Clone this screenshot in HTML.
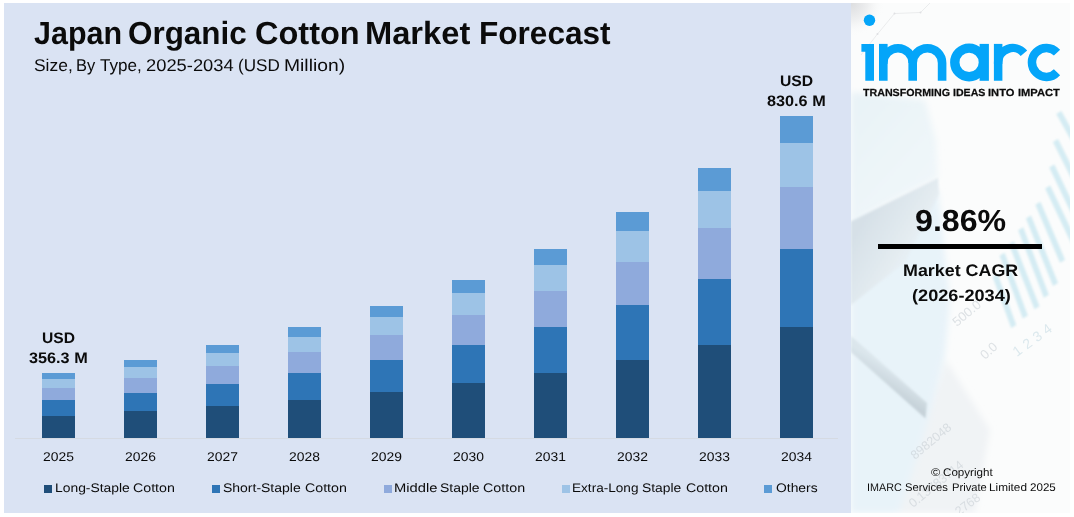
<!DOCTYPE html>
<html><head><meta charset="utf-8">
<style>
*{margin:0;padding:0;box-sizing:border-box}
html,body{width:1074px;height:517px;background:#fff;overflow:hidden}
body{position:relative;font-family:"Liberation Sans",sans-serif;color:#0a0a0a}
.abs,.s,.sq,.t{position:absolute}
#chart{position:absolute;left:4px;top:3px;width:847px;height:510px;background:#DAE3F3}
.s{width:33px}
.t{white-space:nowrap;transform-origin:0 0;color:#0b0b0b;text-rendering:geometricPrecision}
.sq{top:485.1px;width:7.9px;height:7.8px}
#axis{position:absolute;left:15px;top:438px;width:823px;height:1px;background:#d5dae2}
</style></head><body>
<div id="chart"></div>
<svg class="abs" style="left:851px;top:3px" width="219" height="510" viewBox="851 3 219 510">
<defs>
<radialGradient id="g0" cx="851" cy="3" r="34" gradientUnits="userSpaceOnUse"><stop offset="0" stop-color="#dcdddf"/><stop offset="0.5" stop-color="#eeeff0"/><stop offset="1" stop-color="#fbfcfc" stop-opacity="0"/></radialGradient>
<linearGradient id="gf" x1="851" y1="240" x2="925" y2="285" gradientUnits="userSpaceOnUse"><stop offset="0" stop-color="#d6e0e7"/><stop offset="0.55" stop-color="#e4ecf1"/><stop offset="1" stop-color="#eef4f8" stop-opacity="0"/></linearGradient>
<linearGradient id="gp" x1="851" y1="120" x2="940" y2="200" gradientUnits="userSpaceOnUse"><stop offset="0" stop-color="#e9f3f7"/><stop offset="1" stop-color="#f1f7fa"/></linearGradient>
<linearGradient id="gpen" x1="895" y1="372" x2="885" y2="388" gradientUnits="userSpaceOnUse"><stop offset="0" stop-color="#dbe6ec"/><stop offset="1" stop-color="#c6d2d9"/></linearGradient>
<filter id="bl" x="-20%" y="-20%" width="140%" height="140%"><feGaussianBlur stdDeviation="1"/></filter>
<filter id="bl05" x="-20%" y="-20%" width="140%" height="140%"><feGaussianBlur stdDeviation="0.45"/></filter>
<filter id="bl3" x="-20%" y="-20%" width="140%" height="140%"><feGaussianBlur stdDeviation="3"/></filter>
</defs>
<rect x="851" y="3" width="219" height="510" fill="#fbfcfc"/>
<g filter="url(#bl3)">
<polygon points="851,92 925,100 936,140 938,178 851,222" fill="url(#gp)"/>
<polygon points="851,222 938,190 950,300 945,355 929,418 914,468 899,513 851,513" fill="#e8f3f9"/>
<polygon points="929,418 946,360 990,430 975,513 899,513 914,468" fill="#f0f3f5"/>
</g>
<rect x="851" y="3" width="60" height="60" fill="url(#g0)"/>
<path d="M861 55L877.5 34L894.5 13.5L920.5 12.5L930 3" fill="none" stroke="#e6e7e9" stroke-width="0.8"/><g fill="#dfe0e3"><circle cx="877.5" cy="34" r="1"/><circle cx="894.5" cy="13.5" r="1"/><circle cx="920.5" cy="12.5" r="1"/></g>
<g filter="url(#bl)">
<polygon points="851,221.5 938,178 939,194 905,262 851,305" fill="url(#gf)"/>
<polygon points="851,336 927,403 925.5,418.5 851,352" fill="url(#gpen)"/>
<g fill="#cde9f1" opacity="0.85"><polygon points="1056.3,114 1061.3,111 1077.0,139 1072,142"/><polygon points="1053,142 1058.0,139 1077.0,177 1072,180"/><polygon points="1049.3,167.4 1054.3,164.4 1077.0,212 1072,215"/><polygon points="1045.2,188.4 1050.2,185.4 1077.0,242 1072,245"/><polygon points="1035.4,204.7 1040.4,201.7 1065.0,259.8 1060,262.8"/><polygon points="1026,218.6 1031.0,215.6 1058.0,283 1053,286"/><polygon points="1018.2,230.2 1023.2,227.2 1048.8,294.7 1043.8,297.7"/><polygon points="1008.9,244.2 1013.9,241.2 1039.5,306.3 1034.5,309.3"/><polygon points="999.6,255.8 1004.6,252.8 1027.8,315.6 1022.8,318.6"/><polygon points="992.6,276.7 997.6,273.7 1016.2,325 1011.2,328"/></g>
<polygon points="851,335 928,409 926,419 851,347" fill="#c9d3da" opacity="0"/>
</g>
<g font-family="Liberation Sans, sans-serif" fill="#c5ccd2" opacity="0.55" filter="url(#bl05)">
<text transform="translate(957,327) rotate(-40)" font-size="13">500.0</text>
<text transform="translate(985,360) rotate(-42)" font-size="13">0.0</text>
<text transform="translate(1017,357) rotate(-36)" font-size="14" fill="#c3d9e2" letter-spacing="4.5">1234</text>
<text transform="translate(915,460) rotate(-40)" font-size="12.5">8982048</text>
<text transform="translate(913,508) rotate(-39)" font-size="12.5">0.13783714</text>
<text transform="translate(959,516) rotate(-37)" font-size="12.5">2768</text>
</g>
</g>
</svg>
<div id="axis"></div>
<div class="s" style="left:42px;top:373px;height:6.0px;background:#5B9BD5"></div>
<div class="s" style="left:42px;top:379px;height:9.0px;background:#9DC3E6"></div>
<div class="s" style="left:42px;top:388px;height:12.0px;background:#8FAADC"></div>
<div class="s" style="left:42px;top:400px;height:16.0px;background:#2E75B6"></div>
<div class="s" style="left:42px;top:416px;height:21.7px;background:#1F4E79"></div>
<div class="s" style="left:124px;top:360px;height:7.0px;background:#5B9BD5"></div>
<div class="s" style="left:124px;top:367px;height:11.0px;background:#9DC3E6"></div>
<div class="s" style="left:124px;top:378px;height:15.0px;background:#8FAADC"></div>
<div class="s" style="left:124px;top:393px;height:18.0px;background:#2E75B6"></div>
<div class="s" style="left:124px;top:411px;height:26.7px;background:#1F4E79"></div>
<div class="s" style="left:206px;top:345px;height:8.0px;background:#5B9BD5"></div>
<div class="s" style="left:206px;top:353px;height:13.0px;background:#9DC3E6"></div>
<div class="s" style="left:206px;top:366px;height:18.0px;background:#8FAADC"></div>
<div class="s" style="left:206px;top:384px;height:22.0px;background:#2E75B6"></div>
<div class="s" style="left:206px;top:406px;height:31.7px;background:#1F4E79"></div>
<div class="s" style="left:288px;top:327px;height:10.0px;background:#5B9BD5"></div>
<div class="s" style="left:288px;top:337px;height:15.0px;background:#9DC3E6"></div>
<div class="s" style="left:288px;top:352px;height:21.0px;background:#8FAADC"></div>
<div class="s" style="left:288px;top:373px;height:27.0px;background:#2E75B6"></div>
<div class="s" style="left:288px;top:400px;height:37.7px;background:#1F4E79"></div>
<div class="s" style="left:370px;top:306px;height:11.0px;background:#5B9BD5"></div>
<div class="s" style="left:370px;top:317px;height:18.0px;background:#9DC3E6"></div>
<div class="s" style="left:370px;top:335px;height:25.0px;background:#8FAADC"></div>
<div class="s" style="left:370px;top:360px;height:32.0px;background:#2E75B6"></div>
<div class="s" style="left:370px;top:392px;height:45.7px;background:#1F4E79"></div>
<div class="s" style="left:452px;top:280px;height:13.0px;background:#5B9BD5"></div>
<div class="s" style="left:452px;top:293px;height:22.0px;background:#9DC3E6"></div>
<div class="s" style="left:452px;top:315px;height:30.0px;background:#8FAADC"></div>
<div class="s" style="left:452px;top:345px;height:38.0px;background:#2E75B6"></div>
<div class="s" style="left:452px;top:383px;height:54.7px;background:#1F4E79"></div>
<div class="s" style="left:534px;top:249px;height:16.0px;background:#5B9BD5"></div>
<div class="s" style="left:534px;top:265px;height:26.0px;background:#9DC3E6"></div>
<div class="s" style="left:534px;top:291px;height:36.0px;background:#8FAADC"></div>
<div class="s" style="left:534px;top:327px;height:46.0px;background:#2E75B6"></div>
<div class="s" style="left:534px;top:373px;height:64.7px;background:#1F4E79"></div>
<div class="s" style="left:616px;top:212px;height:19.0px;background:#5B9BD5"></div>
<div class="s" style="left:616px;top:231px;height:31.0px;background:#9DC3E6"></div>
<div class="s" style="left:616px;top:262px;height:43.0px;background:#8FAADC"></div>
<div class="s" style="left:616px;top:305px;height:55.0px;background:#2E75B6"></div>
<div class="s" style="left:616px;top:360px;height:77.7px;background:#1F4E79"></div>
<div class="s" style="left:698px;top:168px;height:23.0px;background:#5B9BD5"></div>
<div class="s" style="left:698px;top:191px;height:37.0px;background:#9DC3E6"></div>
<div class="s" style="left:698px;top:228px;height:51.0px;background:#8FAADC"></div>
<div class="s" style="left:698px;top:279px;height:66.0px;background:#2E75B6"></div>
<div class="s" style="left:698px;top:345px;height:92.7px;background:#1F4E79"></div>
<div class="s" style="left:780px;top:116px;height:27.0px;background:#5B9BD5"></div>
<div class="s" style="left:780px;top:143px;height:44.0px;background:#9DC3E6"></div>
<div class="s" style="left:780px;top:187px;height:62.0px;background:#8FAADC"></div>
<div class="s" style="left:780px;top:249px;height:78.0px;background:#2E75B6"></div>
<div class="s" style="left:780px;top:327px;height:110.7px;background:#1F4E79"></div>
<div class="sq" style="left:44.2px;background:#1F4E79"></div>
<div class="sq" style="left:212px;background:#2E75B6"></div>
<div class="sq" style="left:383.7px;background:#8FAADC"></div>
<div class="sq" style="left:562.1px;background:#9DC3E6"></div>
<div class="sq" style="left:764.2px;background:#5B9BD5"></div>
<div class="t" id="tw1" style="left:33.50px;top:15px;font-size:32.0px;line-height:37px;font-weight:bold;transform:scaleX(0.9523)">Japan</div>
<div class="t" id="tw2" style="left:128.42px;top:15px;font-size:32.0px;line-height:37px;font-weight:bold;transform:scaleX(0.9813)">Organic</div>
<div class="t" id="tw3" style="left:254.68px;top:15px;font-size:32.0px;line-height:37px;font-weight:bold;transform:scaleX(1.0158)">Cotton</div>
<div class="t" id="tw4" style="left:365.26px;top:15px;font-size:32.0px;line-height:37px;font-weight:bold;transform:scaleX(1.0207)">Market</div>
<div class="t" id="tw5" style="left:479.23px;top:15px;font-size:32.0px;line-height:37px;font-weight:bold;transform:scaleX(0.9861)">Forecast</div>
<div class="t" id="s1" style="left:33.50px;top:56px;font-size:17.0px;line-height:20px;transform:scaleX(1.0251)">Size,</div>
<div class="t" id="s2" style="left:75.93px;top:56px;font-size:17.0px;line-height:20px;transform:scaleX(0.9670)">By</div>
<div class="t" id="s3" style="left:100.10px;top:56px;font-size:17.0px;line-height:20px;transform:scaleX(1.0060)">Type,</div>
<div class="t" id="s4" style="left:146.20px;top:56px;font-size:17.0px;line-height:20px;transform:scaleX(1.0786)">2025-2034</div>
<div class="t" id="s5" style="left:237.79px;top:56px;font-size:17.0px;line-height:20px;transform:scaleX(1.0055)">(USD</div>
<div class="t" id="s6" style="left:284.17px;top:56px;font-size:17.0px;line-height:20px;transform:scaleX(1.1346)">Million)</div>
<div class="t" id="u1" style="left:41.90px;top:330px;font-size:15.2px;line-height:18px;font-weight:bold;transform:scaleX(1.0281)">USD</div>
<div class="t" id="v1" style="left:28.80px;top:350px;font-size:15.2px;line-height:18px;font-weight:bold;transform:scaleX(1.0696)">356.3 M</div>
<div class="t" id="u2" style="left:779.80px;top:73px;font-size:15.2px;line-height:18px;font-weight:bold;transform:scaleX(1.0343)">USD</div>
<div class="t" id="v2" style="left:767.10px;top:93px;font-size:15.2px;line-height:18px;font-weight:bold;transform:scaleX(1.0696)">830.6 M</div>
<div class="t" id="cagr" style="left:915.14px;top:204px;font-size:30.4px;line-height:35px;font-weight:bold;transform:scaleX(1.0581)">9.86%</div>
<div class="t" id="mc" style="left:903.33px;top:261px;font-size:16.7px;line-height:20px;font-weight:bold;transform:scaleX(1.0712)">Market CAGR</div>
<div class="t" id="yrs" style="left:912.00px;top:286px;font-size:16.5px;line-height:20px;font-weight:bold;transform:scaleX(1.0995)">(2026-2034)</div>
<div class="t" id="c1a" style="left:930.80px;top:466px;font-size:11.1px;line-height:14px;transform:scaleX(1.1250)">©</div>
<div class="t" id="c1b" style="left:942.50px;top:466px;font-size:11.1px;line-height:14px;transform:scaleX(1.0465)">Copyright</div>
<div class="t" id="c2a" style="left:867.13px;top:481px;font-size:11.1px;line-height:14px;transform:scaleX(0.9702)">IMARC</div>
<div class="t" id="c2b" style="left:904.90px;top:481px;font-size:11.1px;line-height:14px;transform:scaleX(1.0095)">Services</div>
<div class="t" id="c2c" style="left:951.50px;top:481px;font-size:11.1px;line-height:14px;transform:scaleX(1.0071)">Private</div>
<div class="t" id="c2d" style="left:989.30px;top:481px;font-size:11.1px;line-height:14px;transform:scaleX(1.0620)">Limited</div>
<div class="t" id="c2e" style="left:1029.90px;top:481px;font-size:11.1px;line-height:14px;transform:scaleX(1.0445)">2025</div>
<div class="t" id="l1a" style="left:54.68px;top:481px;font-size:12.4px;line-height:15px;transform:scaleX(1.1193)">Long-Staple</div>
<div class="t" id="l1b" style="left:132.80px;top:481px;font-size:12.4px;line-height:15px;transform:scaleX(1.1471)">Cotton</div>
<div class="t" id="l2a" style="left:222.90px;top:481px;font-size:12.4px;line-height:15px;transform:scaleX(1.1278)">Short-Staple</div>
<div class="t" id="l2b" style="left:304.60px;top:481px;font-size:12.4px;line-height:15px;transform:scaleX(1.1471)">Cotton</div>
<div class="t" id="l3a" style="left:393.71px;top:481px;font-size:12.4px;line-height:15px;transform:scaleX(1.1879)">Middle</div>
<div class="t" id="l3b" style="left:439.90px;top:481px;font-size:12.4px;line-height:15px;transform:scaleX(1.1237)">Staple</div>
<div class="t" id="l3c" style="left:483.00px;top:481px;font-size:12.4px;line-height:15px;transform:scaleX(1.1525)">Cotton</div>
<div class="t" id="l4a" style="left:572.40px;top:481px;font-size:12.4px;line-height:15px;transform:scaleX(1.0968)">Extra-Long</div>
<div class="t" id="l4b" style="left:642.30px;top:481px;font-size:12.4px;line-height:15px;transform:scaleX(1.1151)">Staple</div>
<div class="t" id="l4c" style="left:685.50px;top:481px;font-size:12.4px;line-height:15px;transform:scaleX(1.1471)">Cotton</div>
<div class="t" id="l5" style="left:775.80px;top:481px;font-size:12.4px;line-height:15px;transform:scaleX(1.1193)">Others</div>
<div class="t" id="g1" style="left:862.70px;top:87px;font-size:10.3px;line-height:13px;font-weight:bold;-webkit-text-stroke:0.25px #111;transform:scaleX(1.0348)">TRANSFORMING</div>
<div class="t" id="g2" style="left:953.10px;top:87px;font-size:10.3px;line-height:13px;font-weight:bold;-webkit-text-stroke:0.25px #111;transform:scaleX(1.0285)">IDEAS</div>
<div class="t" id="g3" style="left:988.30px;top:87px;font-size:10.3px;line-height:13px;font-weight:bold;-webkit-text-stroke:0.25px #111;transform:scaleX(1.0819)">INTO</div>
<div class="t" id="g4" style="left:1017.90px;top:87px;font-size:10.3px;line-height:13px;font-weight:bold;-webkit-text-stroke:0.25px #111;transform:scaleX(1.0808)">IMPACT</div>
<div class="t" id="y0" style="left:42.90px;top:449px;font-size:12.7px;line-height:16px;transform:scaleX(1.0934)">2025</div>
<div class="t" id="y1" style="left:124.90px;top:449px;font-size:12.7px;line-height:16px;transform:scaleX(1.0934)">2026</div>
<div class="t" id="y2" style="left:206.90px;top:449px;font-size:12.7px;line-height:16px;transform:scaleX(1.0934)">2027</div>
<div class="t" id="y3" style="left:288.90px;top:449px;font-size:12.7px;line-height:16px;transform:scaleX(1.0934)">2028</div>
<div class="t" id="y4" style="left:370.90px;top:449px;font-size:12.7px;line-height:16px;transform:scaleX(1.0934)">2029</div>
<div class="t" id="y5" style="left:452.90px;top:449px;font-size:12.7px;line-height:16px;transform:scaleX(1.0934)">2030</div>
<div class="t" id="y6" style="left:534.90px;top:449px;font-size:12.7px;line-height:16px;transform:scaleX(1.0934)">2031</div>
<div class="t" id="y7" style="left:616.90px;top:449px;font-size:12.7px;line-height:16px;transform:scaleX(1.0934)">2032</div>
<div class="t" id="y8" style="left:698.90px;top:449px;font-size:12.7px;line-height:16px;transform:scaleX(1.0934)">2033</div>
<div class="t" id="y9" style="left:780.90px;top:449px;font-size:12.7px;line-height:16px;transform:scaleX(1.0934)">2034</div>
<svg class="abs" style="left:851px;top:3px" width="219" height="110" viewBox="851 3 219 110">
<g fill="#04A5F9"><circle cx="869.5" cy="20.2" r="5.7"/>
<path d="M861.4 43.9H874V80.8H865.3V51.8H861.4Z"/>
<rect x="879" y="43.9" width="8.6" height="20"/>
<rect x="979.6" y="43.9" width="9.3" height="36.9"/>
<rect x="993.9" y="43.9" width="8.5" height="20"/>
</g>
<g fill="none" stroke="#04A5F9" stroke-width="8.6">
<path d="M883.3 80.8V62.9A14.7 14.7 0 0 1 912.7 62.9V80.8"/>
<path d="M912.7 62.9A14.7 14.7 0 0 1 942.1 62.9V80.8"/>
<circle cx="969.1" cy="62.4" r="14.3" stroke-width="9.4"/>
<path d="M998.15 80.8V62.6A14.6 14.6 0 0 1 1023.93 53.22" stroke-width="8.5"/>
<path d="M1057.02 52.65A14.45 14.45 0 1 0 1057.02 72.25" stroke-width="8.5"/>
</g></svg>
<div class="abs" id="rule" style="left:878.4px;top:244px;width:163.6px;height:4.8px;background:#000"></div>
</body></html>
